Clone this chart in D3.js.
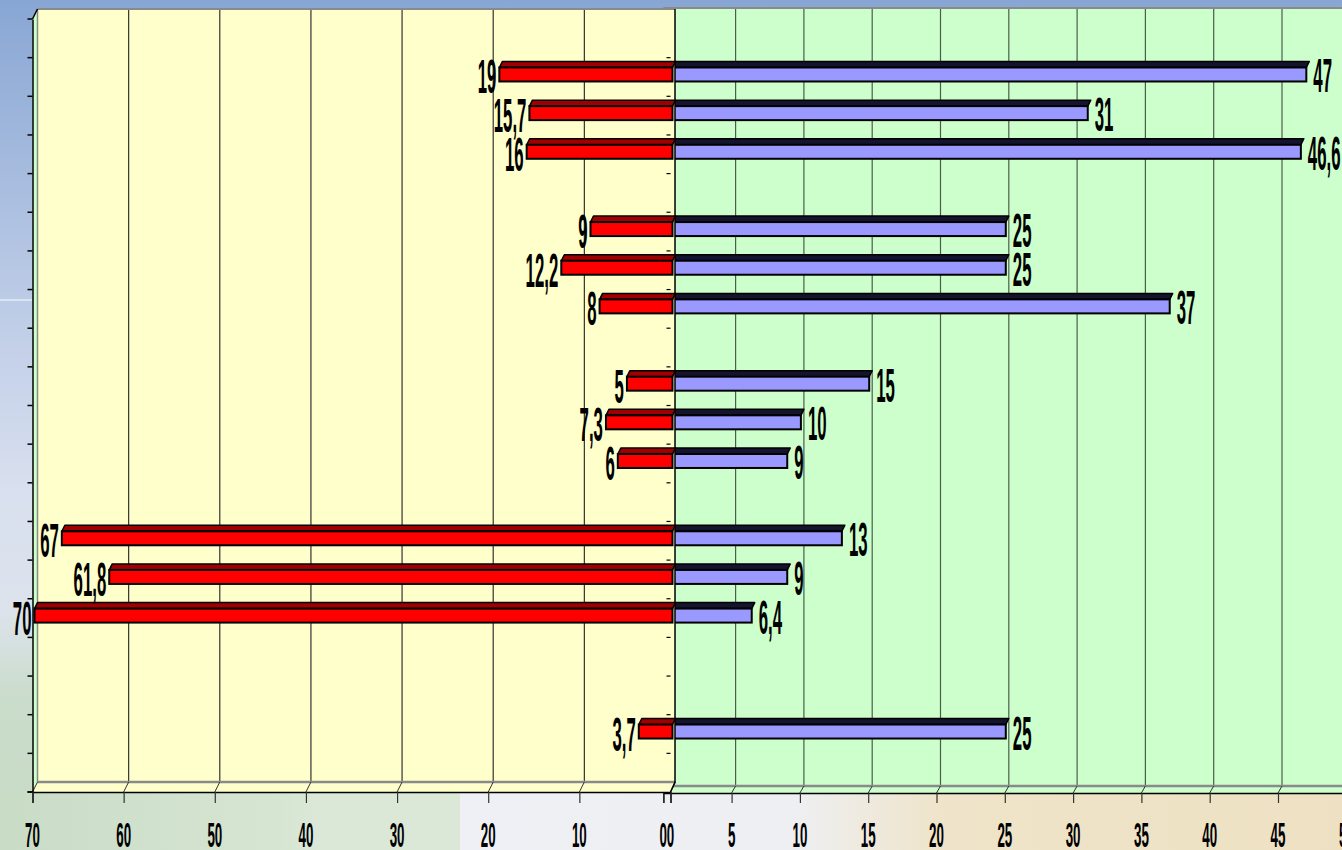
<!DOCTYPE html>
<html>
<head>
<meta charset="utf-8">
<script src="https://cdn.jsdelivr.net/npm/d3@7/dist/d3.min.js"></script>
<style>
html,body{margin:0;padding:0;background:#fff;}
svg{display:block;}
text{font-family:"Liberation Sans",Arial,sans-serif;font-weight:bold;fill:#000;}
</style>
</head>
<body>
<svg id="chart" width="1342" height="850"></svg>
<script>
// ---- data ----
const categories = ["1","2","3","4","5","6","7","8","9","10","11","12","13","14","15","16","17","18","19","20"];
const redValues  = [null,19,15.7,16,null,9,12.2,8,null,5,7.3,6,null,67,61.8,70,null,null,3.7,null];
const blueValues = [null,47,31,46.6,null,25,25,37,null,15,10,9,null,13,9,6.4,null,null,25,null];
const leftTicks  = [70,60,50,40,30,20,10,0];
const rightTicks = [0,5,10,15,20,25,30,35,40,45,50];

const fmt = d => String(d).replace('.', ',');

const W = 1342, H = 850;
const svg = d3.select("#chart");
const defs = svg.append("defs");

// ---- background ----
const bg = defs.append("linearGradient").attr("id","bgV").attr("x1",0).attr("y1",0).attr("x2",0).attr("y2",1);
[[0,"#88a6d4"],[0.33,"#b9c9e5"],[0.58,"#d9e0ef"],[0.72,"#dce3ec"],[0.82,"#cadccb"],[1,"#c8dcc5"]]
  .forEach(([o,c]) => bg.append("stop").attr("offset",o).attr("stop-color",c));
svg.append("rect").attr("width",W).attr("height",H).attr("fill","url(#bgV)");

const bgB = defs.append("linearGradient").attr("id","bgB").attr("x1",0).attr("y1",0).attr("x2",1).attr("y2",0);
[[0,"#c9dcc6"],[0.6,"#d6e5d2"],[0.7,"#dbe8d8"]].forEach(([o,c]) => bgB.append("stop").attr("offset",o).attr("stop-color",c));
svg.append("rect").attr("x",0).attr("y",793).attr("width",460).attr("height",57).attr("fill","url(#bgB)");
const bgR = defs.append("linearGradient").attr("id","bgR").attr("x1",0).attr("y1",0).attr("x2",1).attr("y2",0);
[[0,"#eff0f5"],[0.38,"#eeeff2"],[0.55,"#efe4c9"],[1,"#eee1c3"]].forEach(([o,c]) => bgR.append("stop").attr("offset",o).attr("stop-color",c));
svg.append("rect").attr("x",460).attr("y",793).attr("width",882).attr("height",57).attr("fill","url(#bgR)");
svg.append("line").attr("x1",0).attr("x2",32).attr("y1",300).attr("y2",300).attr("stroke","#eef3fb").attr("stroke-width",1.5).attr("opacity",0.8);

// ---- scales ----
const xL = d3.scaleLinear().domain([70,0]).range([32.5,670.5]);
const xR = d3.scaleLinear().domain([0,50]).range([663.3,1346.3]);
const y  = d3.scaleBand().domain(categories).range([19,792]).paddingInner(0).paddingOuter(0);
const bw = y.bandwidth();
const faceC = c => y(c) + bw/2 - 2.5;
const FH = 7;        // half front-face height
const DX = 3, DY = 6; // bar depth offset

// ================= RIGHT CHART (drawn first) =================
const R = svg.append("g");
const rDx = 4, rDy = 7, rBase = 793, rTop = 8;
R.append("rect").attr("x",xR(0)+rDx).attr("y",rTop).attr("width",W - xR(0)).attr("height",rBase - rDy - rTop)
  .attr("fill","#ccffcc");
R.selectAll("line.grid").data(rightTicks.filter(d=>d>0)).join("line")
  .attr("x1",d=>xR(d)+rDx).attr("x2",d=>xR(d)+rDx).attr("y1",rTop).attr("y2",rBase-rDy)
  .attr("stroke","#4d5d4d").attr("stroke-width",1.2);
R.append("line").attr("x1",xR(0)).attr("x2",W).attr("y1",rTop).attr("y2",rTop).attr("stroke","#8a8a8a").attr("stroke-width",2);
// floor
R.append("path").attr("d",`M${xR(0)},${rBase}L${xR(0)+rDx},${rBase-rDy}L${W},${rBase-rDy}L${W},${rBase}Z`).attr("fill","#ccffcc");
R.append("line").attr("x1",xR(0)+rDx).attr("x2",W).attr("y1",rBase-rDy).attr("y2",rBase-rDy).attr("stroke","#8a8a8a").attr("stroke-width",2.5);
R.selectAll("line.fl").data(rightTicks).join("line")
  .attr("x1",d=>xR(d)).attr("x2",d=>xR(d)+rDx).attr("y1",rBase).attr("y2",rBase-rDy)
  .attr("stroke","#333").attr("stroke-width",1);
// x axis (right)
const axR = d3.axisBottom(xR).tickValues(rightTicks).tickSize(10).tickFormat("");
const gAxR = R.append("g").attr("transform",`translate(0,${rBase})`).call(axR);
gAxR.select(".domain").attr("stroke","#000").attr("stroke-width",1.5);
gAxR.selectAll(".tick line").attr("stroke","#333").attr("stroke-width",1.2);
R.selectAll("text.tr").data(rightTicks).join("text")
  .attr("transform",d=>`translate(${xR(d)},847) scale(0.37,1)`)
  .attr("text-anchor","middle").attr("font-size",36).text(d=>d);

// blue bars
const blueRows = categories.map((c,i)=>({c, v:blueValues[i]})).filter(d=>d.v!=null);
const gB = R.append("g");
gB.selectAll("path.top").data(blueRows).join("path")
  .attr("d",d=>{const a=xR(0), b=xR(d.v)+1, t=faceC(d.c)-FH;
    return `M${a},${t}L${a+DX},${t-DY}L${b+DX},${t-DY}L${b},${t}Z`;})
  .attr("fill","#14142e").attr("stroke","#000").attr("stroke-width",1.5).attr("stroke-linejoin","round");
gB.selectAll("rect").data(blueRows).join("rect")
  .attr("x",xR(0)).attr("y",d=>faceC(d.c)-FH).attr("width",d=>xR(d.v)+1-xR(0)).attr("height",2*FH)
  .attr("fill","#9999ff").attr("stroke","#000").attr("stroke-width",2);
gB.selectAll("text").data(blueRows).join("text")
  .attr("transform",d=>`translate(${xR(d.v)+8},${faceC(d.c)+18}) scale(0.35,1)`)
  .attr("text-anchor","start").attr("font-size",48).text(d=>fmt(d.v));

// ================= LEFT CHART (on top) =================
const L = svg.append("g");
const lDx = 5, lDy = 10, lBase = 792, lTop = 9, lRight = 675;
L.append("rect").attr("x",xL(70)+lDx).attr("y",lTop).attr("width",lRight-(xL(70)+lDx)).attr("height",lBase-lDy-lTop)
  .attr("fill","#ffffcc");
// left wall
L.append("path").attr("d",`M${xL(70)},${lBase}L${xL(70)},${lTop+lDy}L${xL(70)+lDx},${lTop}L${xL(70)+lDx},${lBase-lDy}Z`)
  .attr("fill","#ccffcc");
L.append("line").attr("x1",xL(70)+lDx).attr("x2",xL(70)+lDx).attr("y1",lTop).attr("y2",lBase-lDy).attr("stroke","#8a8a8a").attr("stroke-width",1.5);
L.selectAll("line.grid").data(leftTicks.filter(d=>d>0 && d<70)).join("line")
  .attr("x1",d=>xL(d)+lDx).attr("x2",d=>xL(d)+lDx).attr("y1",lTop).attr("y2",lBase-lDy)
  .attr("stroke","#333").attr("stroke-width",1.2);
L.append("line").attr("x1",xL(70)+lDx).attr("x2",lRight).attr("y1",lTop).attr("y2",lTop).attr("stroke","#8a8a8a").attr("stroke-width",2);
// floor
L.append("path").attr("d",`M${xL(70)},${lBase}L${xL(70)+lDx},${lBase-lDy}L${lRight},${lBase-lDy}L${xL(0)},${lBase}Z`).attr("fill","#ffffcc");
L.append("line").attr("x1",xL(70)+lDx).attr("x2",lRight).attr("y1",lBase-lDy).attr("y2",lBase-lDy).attr("stroke","#8a8a8a").attr("stroke-width",2.5);
L.selectAll("line.fl").data(leftTicks).join("line")
  .attr("x1",d=>xL(d)).attr("x2",d=>xL(d)+lDx).attr("y1",lBase).attr("y2",lBase-lDy)
  .attr("stroke","#333").attr("stroke-width",1);
// right edge of left chart
L.append("path").attr("d",`M${lRight},${lTop}L${lRight},${lBase-lDy}L${xL(0)},${lBase}`).attr("fill","none").attr("stroke","#000").attr("stroke-width",1.5);
// left category axis
const axY = d3.axisLeft(y).tickSizeInner(0).tickSizeOuter(0).tickFormat("");
const gAxY = L.append("g").attr("transform",`translate(${xL(70)},0)`).call(axY);
gAxY.select(".domain").attr("stroke","#000").attr("stroke-width",1.5);
L.selectAll("line.yt").data(categories.slice(1)).join("line")
  .attr("x1",xL(70)-5).attr("x2",xL(70)).attr("y1",d=>y(d)).attr("y2",d=>y(d)).attr("stroke","#000").attr("stroke-width",1.5);
L.append("line").attr("x1",xL(70)-5).attr("x2",xL(70)).attr("y1",lTop+lDy).attr("y2",lTop+lDy).attr("stroke","#000").attr("stroke-width",1.5);
L.append("line").attr("x1",xL(70)-5).attr("x2",xL(70)).attr("y1",lBase).attr("y2",lBase).attr("stroke","#000").attr("stroke-width",1.5);
L.append("line").attr("x1",xL(70)).attr("x2",xL(70)+lDx).attr("y1",lTop+lDy).attr("y2",lTop).attr("stroke","#000").attr("stroke-width",1.5);
// small ticks of right chart's category axis
L.selectAll("line.yt2").data(categories.slice(1)).join("line")
  .attr("x1",xL(0)-4).attr("x2",xL(0)).attr("y1",d=>y(d)).attr("y2",d=>y(d)).attr("stroke","#000").attr("stroke-width",1.2);
// x axis (left)
const axL = d3.axisBottom(xL).tickValues(leftTicks).tickSize(11).tickFormat("");
const gAxL = L.append("g").attr("transform",`translate(0,${lBase})`).call(axL);
gAxL.select(".domain").attr("stroke","#000").attr("stroke-width",1.5);
gAxL.selectAll(".tick line").attr("stroke","#333").attr("stroke-width",1.2);
L.append("line").attr("x1",xL(70)-5).attr("x2",xL(70)).attr("y1",lBase).attr("y2",lBase).attr("stroke","#000").attr("stroke-width",1.5);
L.selectAll("text.tl").data(leftTicks).join("text")
  .attr("transform",d=>`translate(${xL(d)},847) scale(0.37,1)`)
  .attr("text-anchor","middle").attr("font-size",36).text(d=>d);

// red bars
const redRows = categories.map((c,i)=>({c, v:redValues[i]})).filter(d=>d.v!=null);
const gR = L.append("g");
gR.selectAll("path.top").data(redRows).join("path")
  .attr("d",d=>{const a=xL(d.v)+2, b=xL(0)+2, t=faceC(d.c)-FH;
    return `M${a},${t}L${a+DX},${t-DY}L${b+DX},${t-DY}L${b},${t}Z`;})
  .attr("fill","#a00000").attr("stroke","#000").attr("stroke-width",1.5).attr("stroke-linejoin","round");
gR.selectAll("rect").data(redRows).join("rect")
  .attr("x",d=>xL(d.v)+2).attr("y",d=>faceC(d.c)-FH).attr("width",d=>xL(0)-xL(d.v)).attr("height",2*FH)
  .attr("fill","#ff0000").attr("stroke","#000").attr("stroke-width",2);
gR.selectAll("text").data(redRows).join("text")
  .attr("transform",d=>`translate(${xL(d.v)-1},${faceC(d.c)+19}) scale(0.35,1)`)
  .attr("text-anchor","end").attr("font-size",48).text(d=>fmt(d.v));
</script>
</body>
</html>
